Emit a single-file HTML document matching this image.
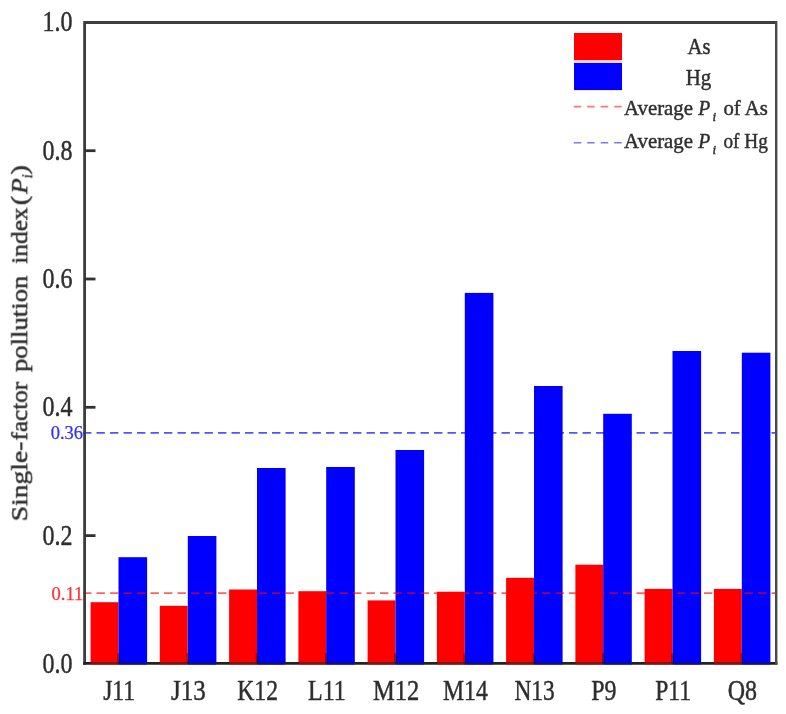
<!DOCTYPE html>
<html><head><meta charset="utf-8"><title>Single-factor pollution index</title>
<style>
html,body{margin:0;padding:0;background:#fff;}
svg{display:block;font-family:"Liberation Serif","Times New Roman",serif;}
.t{fill:#2e2e2e;stroke:#2e2e2e;stroke-width:0.45px;}
</style></head><body>
<svg width="786" height="714" viewBox="0 0 786 714">
<defs><filter id="soft" x="0" y="0" width="100%" height="100%" filterUnits="userSpaceOnUse"><feGaussianBlur stdDeviation="0.45"/></filter></defs>
<rect width="786" height="714" fill="#fff"/>
<g filter="url(#soft)">

<rect x="90.6" y="602.2" width="27.9" height="61.1" fill="#ff0000"/>
<rect x="118.5" y="557.2" width="28.6" height="106.1" fill="#0000ff"/>
<rect x="159.8" y="605.8" width="27.9" height="57.5" fill="#ff0000"/>
<rect x="187.8" y="536.0" width="28.6" height="127.3" fill="#0000ff"/>
<rect x="229.1" y="589.5" width="27.9" height="73.8" fill="#ff0000"/>
<rect x="257.0" y="468.0" width="28.6" height="195.3" fill="#0000ff"/>
<rect x="298.4" y="591.2" width="27.9" height="72.1" fill="#ff0000"/>
<rect x="326.2" y="467.0" width="28.6" height="196.3" fill="#0000ff"/>
<rect x="367.6" y="600.4" width="27.9" height="62.9" fill="#ff0000"/>
<rect x="395.5" y="450.0" width="28.6" height="213.3" fill="#0000ff"/>
<rect x="436.9" y="591.7" width="27.9" height="71.6" fill="#ff0000"/>
<rect x="464.8" y="292.9" width="28.6" height="370.4" fill="#0000ff"/>
<rect x="506.1" y="577.8" width="27.9" height="85.5" fill="#ff0000"/>
<rect x="534.0" y="386.0" width="28.6" height="277.3" fill="#0000ff"/>
<rect x="575.4" y="564.7" width="27.9" height="98.6" fill="#ff0000"/>
<rect x="603.2" y="413.8" width="28.6" height="249.5" fill="#0000ff"/>
<rect x="644.6" y="588.9" width="27.9" height="74.4" fill="#ff0000"/>
<rect x="672.5" y="351.0" width="28.6" height="312.3" fill="#0000ff"/>
<rect x="713.9" y="588.9" width="27.9" height="74.4" fill="#ff0000"/>
<rect x="741.8" y="352.7" width="28.6" height="310.6" fill="#0000ff"/>
<line x1="83" y1="593.2" x2="776.2" y2="593.2" stroke="#ff0000" stroke-opacity="0.62" stroke-width="1.7" stroke-dasharray="8.4 5.1"/>
<line x1="83" y1="432.8" x2="776.2" y2="432.8" stroke="#0000ff" stroke-opacity="0.68" stroke-width="1.7" stroke-dasharray="8.4 5.1"/>
<path d="M84.6 22.4 H776.2" stroke="#3c3c3c" stroke-width="3" fill="none"/>
<path d="M84.6 20.9 V664.8" stroke="#3c3c3c" stroke-width="2.8" fill="none"/>
<path d="M83.19999999999999 663.3 H777.4000000000001" stroke="#222" stroke-width="2.8" fill="none"/>
<path d="M776.2 20.9 V664.8" stroke="#4a4a4a" stroke-width="2.4" fill="none"/>
<rect x="90.6" y="661.7" width="27.9" height="3.2" fill="#ff0000" fill-opacity="0.4"/>
<rect x="118.5" y="661.7" width="28.6" height="3.2" fill="#0000ff" fill-opacity="0.5"/>
<rect x="159.8" y="661.7" width="27.9" height="3.2" fill="#ff0000" fill-opacity="0.4"/>
<rect x="187.8" y="661.7" width="28.6" height="3.2" fill="#0000ff" fill-opacity="0.5"/>
<rect x="229.1" y="661.7" width="27.9" height="3.2" fill="#ff0000" fill-opacity="0.4"/>
<rect x="257.0" y="661.7" width="28.6" height="3.2" fill="#0000ff" fill-opacity="0.5"/>
<rect x="298.4" y="661.7" width="27.9" height="3.2" fill="#ff0000" fill-opacity="0.4"/>
<rect x="326.2" y="661.7" width="28.6" height="3.2" fill="#0000ff" fill-opacity="0.5"/>
<rect x="367.6" y="661.7" width="27.9" height="3.2" fill="#ff0000" fill-opacity="0.4"/>
<rect x="395.5" y="661.7" width="28.6" height="3.2" fill="#0000ff" fill-opacity="0.5"/>
<rect x="436.9" y="661.7" width="27.9" height="3.2" fill="#ff0000" fill-opacity="0.4"/>
<rect x="464.8" y="661.7" width="28.6" height="3.2" fill="#0000ff" fill-opacity="0.5"/>
<rect x="506.1" y="661.7" width="27.9" height="3.2" fill="#ff0000" fill-opacity="0.4"/>
<rect x="534.0" y="661.7" width="28.6" height="3.2" fill="#0000ff" fill-opacity="0.5"/>
<rect x="575.4" y="661.7" width="27.9" height="3.2" fill="#ff0000" fill-opacity="0.4"/>
<rect x="603.2" y="661.7" width="28.6" height="3.2" fill="#0000ff" fill-opacity="0.5"/>
<rect x="644.6" y="661.7" width="27.9" height="3.2" fill="#ff0000" fill-opacity="0.4"/>
<rect x="672.5" y="661.7" width="28.6" height="3.2" fill="#0000ff" fill-opacity="0.5"/>
<rect x="713.9" y="661.7" width="27.9" height="3.2" fill="#ff0000" fill-opacity="0.4"/>
<rect x="741.8" y="661.7" width="28.6" height="3.2" fill="#0000ff" fill-opacity="0.5"/>
<path d="M84.6 150.7 H95.5" stroke="#333" stroke-width="2.8"/>
<path d="M84.6 279.0 H95.5" stroke="#333" stroke-width="2.8"/>
<path d="M84.6 407.3 H95.5" stroke="#333" stroke-width="2.8"/>
<path d="M84.6 535.6 H95.5" stroke="#333" stroke-width="2.8"/>
<path d="M118.5 663.3 V653.3" stroke="#111" stroke-opacity="0.5" stroke-width="2.4"/>
<path d="M187.8 663.3 V653.3" stroke="#111" stroke-opacity="0.5" stroke-width="2.4"/>
<path d="M257.0 663.3 V653.3" stroke="#111" stroke-opacity="0.5" stroke-width="2.4"/>
<path d="M326.2 663.3 V653.3" stroke="#111" stroke-opacity="0.5" stroke-width="2.4"/>
<path d="M395.5 663.3 V653.3" stroke="#111" stroke-opacity="0.5" stroke-width="2.4"/>
<path d="M464.8 663.3 V653.3" stroke="#111" stroke-opacity="0.5" stroke-width="2.4"/>
<path d="M534.0 663.3 V653.3" stroke="#111" stroke-opacity="0.5" stroke-width="2.4"/>
<path d="M603.2 663.3 V653.3" stroke="#111" stroke-opacity="0.5" stroke-width="2.4"/>
<path d="M672.5 663.3 V653.3" stroke="#111" stroke-opacity="0.5" stroke-width="2.4"/>
<path d="M741.8 663.3 V653.3" stroke="#111" stroke-opacity="0.5" stroke-width="2.4"/>
<text x="72.6" y="31.4" font-size="28.5" text-anchor="end" textLength="30" lengthAdjust="spacingAndGlyphs" class="t">1.0</text>
<text x="72.6" y="159.7" font-size="28.5" text-anchor="end" textLength="30" lengthAdjust="spacingAndGlyphs" class="t">0.8</text>
<text x="72.6" y="288.0" font-size="28.5" text-anchor="end" textLength="30" lengthAdjust="spacingAndGlyphs" class="t">0.6</text>
<text x="72.6" y="416.3" font-size="28.5" text-anchor="end" textLength="30" lengthAdjust="spacingAndGlyphs" class="t">0.4</text>
<text x="72.6" y="544.6" font-size="28.5" text-anchor="end" textLength="30" lengthAdjust="spacingAndGlyphs" class="t">0.2</text>
<text x="72.6" y="673.3" font-size="28.5" text-anchor="end" textLength="30" lengthAdjust="spacingAndGlyphs" class="t">0.0</text>
<text x="119.1" y="699.5" font-size="28.5" text-anchor="middle" textLength="31.8" lengthAdjust="spacingAndGlyphs" class="t">J11</text>
<text x="188.3" y="699.5" font-size="28.5" text-anchor="middle" textLength="34.8" lengthAdjust="spacingAndGlyphs" class="t">J13</text>
<text x="257.6" y="699.5" font-size="28.5" text-anchor="middle" textLength="40.8" lengthAdjust="spacingAndGlyphs" class="t">K12</text>
<text x="326.9" y="699.5" font-size="28.5" text-anchor="middle" textLength="37.8" lengthAdjust="spacingAndGlyphs" class="t">L11</text>
<text x="396.1" y="699.5" font-size="28.5" text-anchor="middle" textLength="46.3" lengthAdjust="spacingAndGlyphs" class="t">M12</text>
<text x="465.4" y="699.5" font-size="28.5" text-anchor="middle" textLength="44.8" lengthAdjust="spacingAndGlyphs" class="t">M14</text>
<text x="534.6" y="699.5" font-size="28.5" text-anchor="middle" textLength="40.3" lengthAdjust="spacingAndGlyphs" class="t">N13</text>
<text x="603.9" y="699.5" font-size="28.5" text-anchor="middle" textLength="25.3" lengthAdjust="spacingAndGlyphs" class="t">P9</text>
<text x="673.1" y="699.5" font-size="28.5" text-anchor="middle" textLength="35.8" lengthAdjust="spacingAndGlyphs" class="t">P11</text>
<text x="742.4" y="699.5" font-size="28.5" text-anchor="middle" textLength="29.3" lengthAdjust="spacingAndGlyphs" class="t">Q8</text>
<text x="83" y="439.3" font-size="18.5" text-anchor="end" fill="#3030ff" stroke="#3030ff" stroke-width="0.25">0.36</text>
<text x="83.3" y="599.8" font-size="18.5" text-anchor="end" fill="#ff3030" stroke="#ff3030" stroke-width="0.25">0.11</text>
<text transform="translate(27.2,521.3) rotate(-90)" font-size="23.8" class="t"><tspan x="0" textLength="79.6" lengthAdjust="spacingAndGlyphs">Single-</tspan><tspan x="80.8" textLength="58.7" lengthAdjust="spacingAndGlyphs">factor</tspan><tspan x="149.2" textLength="96.5" lengthAdjust="spacingAndGlyphs">pollution</tspan><tspan x="257.5" textLength="56.3" lengthAdjust="spacingAndGlyphs">index</tspan><tspan x="316" textLength="9.5" lengthAdjust="spacingAndGlyphs">(</tspan><tspan x="327.6" font-style="italic" textLength="15.5" lengthAdjust="spacingAndGlyphs">P</tspan><tspan x="343" font-style="italic" font-size="14" dy="5">i</tspan><tspan x="346.8" dy="-5" textLength="9.5" lengthAdjust="spacingAndGlyphs">)</tspan></text>
<rect x="574" y="33" width="48" height="27" fill="#ff0000"/>
<rect x="574" y="62.8" width="48" height="27.3" fill="#0000ff"/>
<rect x="574" y="60" width="48" height="2.8" fill="#f9cfc6"/>
<line x1="573.7" y1="106.6" x2="622" y2="106.6" stroke="#ff4040" stroke-opacity="0.7" stroke-width="1.6" stroke-dasharray="7.5 6"/>
<line x1="573.7" y1="142.8" x2="622" y2="142.8" stroke="#4040ff" stroke-opacity="0.7" stroke-width="1.6" stroke-dasharray="7.5 6"/>
<text x="699" y="54.2" font-size="22.5" text-anchor="middle" class="t" textLength="23" lengthAdjust="spacingAndGlyphs">As</text>
<text x="698.5" y="84.8" font-size="22.5" text-anchor="middle" class="t" textLength="25.5" lengthAdjust="spacingAndGlyphs">Hg</text>
<text y="114.7" font-size="22" class="t"><tspan x="624" textLength="69" lengthAdjust="spacingAndGlyphs">Average</tspan><tspan x="698.2" font-style="italic" textLength="12" lengthAdjust="spacingAndGlyphs">P</tspan><tspan x="712.6" dy="6.3" font-style="italic" font-size="13">i</tspan><tspan x="723.4" dy="-6.3" textLength="44.4" lengthAdjust="spacingAndGlyphs">of As</tspan></text>
<text y="147.6" font-size="22" class="t"><tspan x="624" textLength="69" lengthAdjust="spacingAndGlyphs">Average</tspan><tspan x="698.2" font-style="italic" textLength="12" lengthAdjust="spacingAndGlyphs">P</tspan><tspan x="712.6" dy="6.3" font-style="italic" font-size="13">i</tspan><tspan x="723.4" dy="-6.3" textLength="44.4" lengthAdjust="spacingAndGlyphs">of Hg</tspan></text>
</g></svg></body></html>
